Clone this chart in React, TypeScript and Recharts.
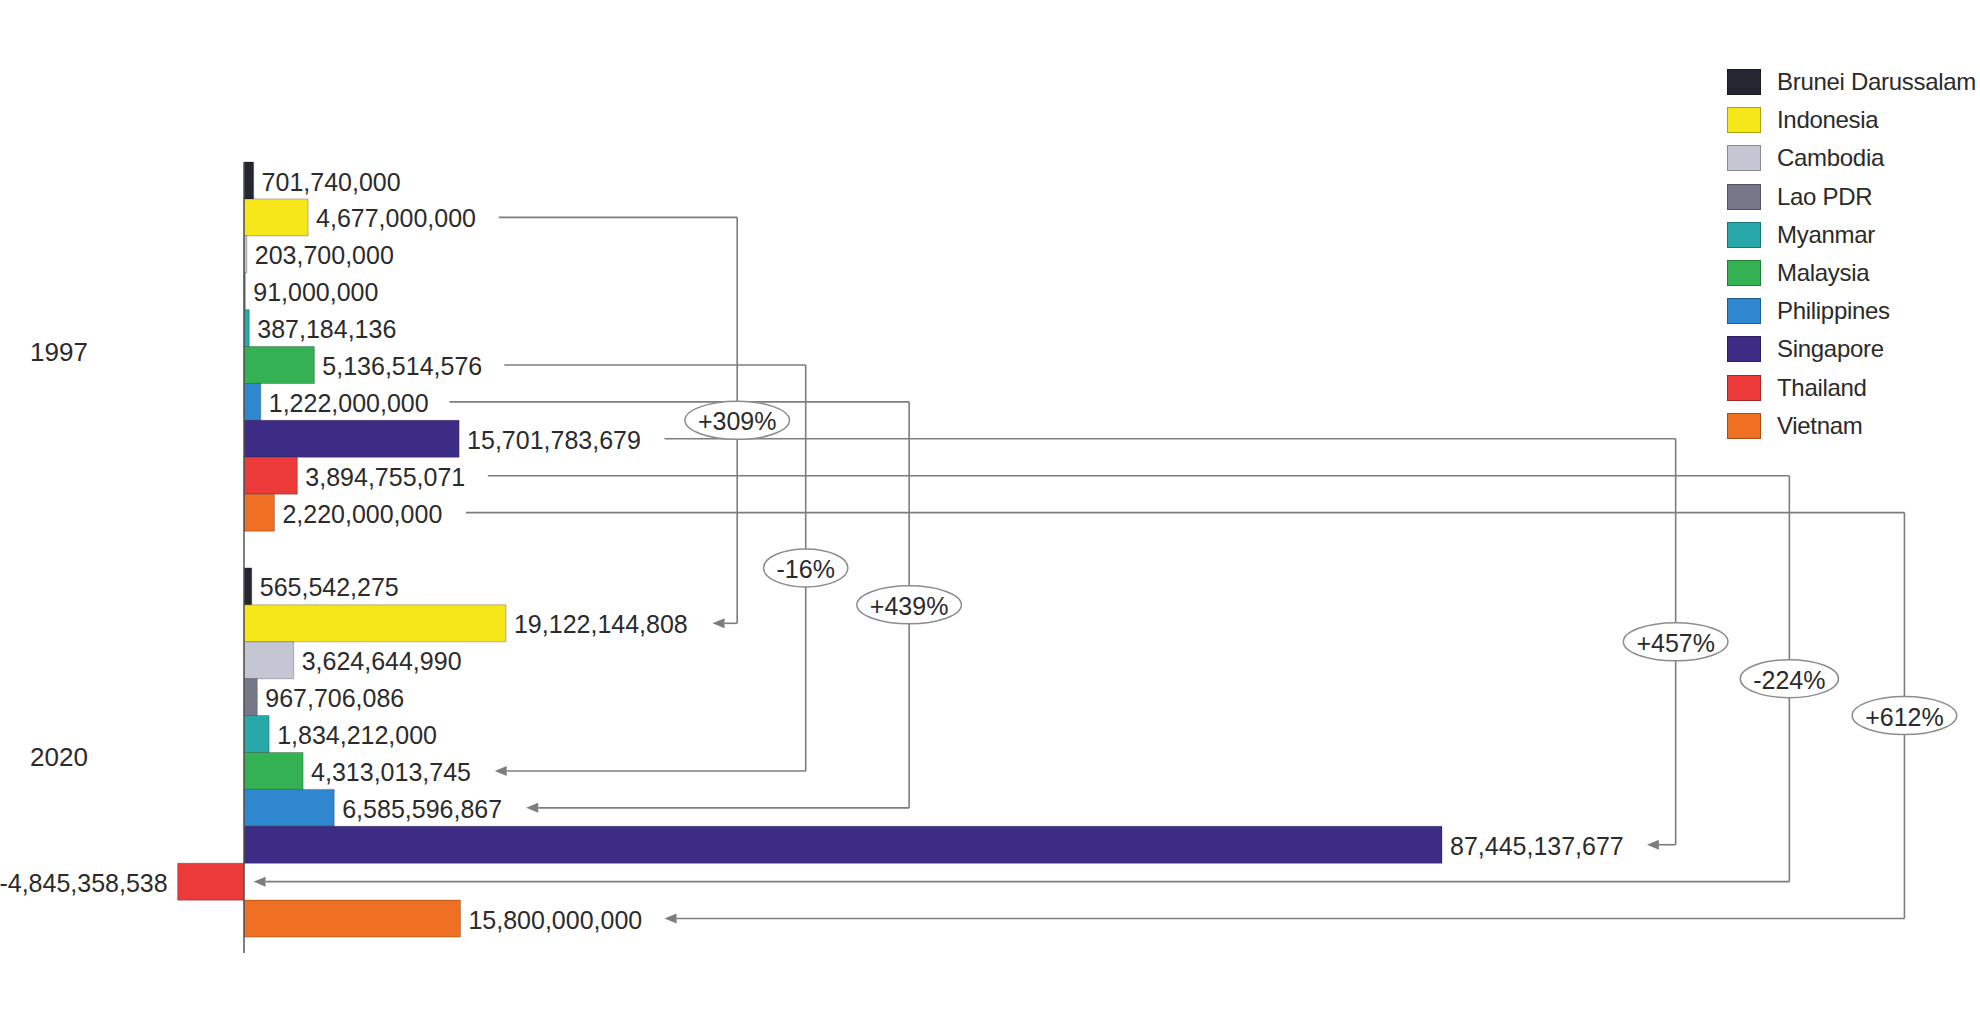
import { Bar, BarChart, Cell, LabelList, Legend, ReferenceLine, XAxis, YAxis } from "recharts";

const countries = [
  "Brunei Darussalam",
  "Indonesia",
  "Cambodia",
  "Lao PDR",
  "Myanmar",
  "Malaysia",
  "Philippines",
  "Singapore",
  "Thailand",
  "Vietnam",
];
const years = ["1997", "2020"];
const values1997 = [
  701740000, 4677000000, 203700000, 91000000, 387184136, 5136514576, 1222000000, 15701783679, 3894755071,
  2220000000,
];
const values2020 = [
  565542275, 19122144808, 3624644990, 967706086, 1834212000, 4313013745, 6585596867, 87445137677, -4845358538,
  15800000000,
];

// countries that get a "change" connector, and its label
const changeCountries = ["Indonesia", "Malaysia", "Philippines", "Singapore", "Thailand", "Vietnam"];
const changeLabels = ["+309%", "-16%", "+439%", "+457%", "-224%", "+612%"];

const colors = [
  "#262632",
  "#f6e71a",
  "#c5c6d4",
  "#77778a",
  "#29a8aa",
  "#33b153",
  "#2f87cf",
  "#3d2c86",
  "#ec3a3a",
  "#ef7023",
];

// connector routing, in x-axis units: leave the 1997 label, turn down, end at the 2020 row
const connectorStart = [18.6e9, 19.0e9, 15.0e9, 30.7e9, 17.8e9, 16.2e9];
const connectorElbow = [36.0e9, 41.0e9, 48.55e9, 104.5e9, 112.8e9, 121.2e9];
const connectorEnd = [34.2e9, 18.3e9, 20.6e9, 102.4e9, 0.7e9, 30.7e9];

const rowKey = (year: string, country: string) => `${year}|${country}`;
const GAP = "gap";

// bubble sits on the border between these two rows
const bubbleRows = [
  [rowKey("1997", "Philippines"), rowKey("1997", "Singapore")],
  [GAP, rowKey("2020", "Brunei Darussalam")],
  [rowKey("2020", "Brunei Darussalam"), rowKey("2020", "Indonesia")],
  [rowKey("2020", "Indonesia"), rowKey("2020", "Cambodia")],
  [rowKey("2020", "Cambodia"), rowKey("2020", "Lao PDR")],
  [rowKey("2020", "Lao PDR"), rowKey("2020", "Myanmar")],
];

const rows = [
  ...countries.map((c, i) => ({ key: rowKey(years[0], c), value: values1997[i], country: c })),
  { key: GAP, value: null, country: null },
  ...countries.map((c, i) => ({ key: rowKey(years[1], c), value: values2020[i], country: c })),
];

const FONT = "'Liberation Sans', Arial, sans-serif";
const TEXT = "#2b2b2b";
const LINE = "#7d7d7d";

const fmt = (v: number) => v.toLocaleString("en-US");

// rough Arial widths, for sizing the bubbles
function textWidth(s: string, size: number) {
  let w = 0;
  for (const ch of s) {
    if (ch === "%") w += 0.889;
    else if (ch === "+") w += 0.584;
    else if (ch === "-") w += 0.333;
    else w += 0.556;
  }
  return w * size;
}

function YearTick(props: any) {
  const { y, payload } = props;
  const [year, country] = String(payload.value).split("|");
  if (country !== countries[4]) return <g />;
  const half = payload.offset ?? 18;
  return (
    <text x={30} y={y + half + 5} dominantBaseline="central" fontSize={26} fontFamily={FONT} fill={TEXT}>
      {year}
    </text>
  );
}

function ValueLabel(props: any) {
  const { value } = props;
  if (value == null) return null;
  const vb = props.viewBox ?? {};
  const x = Number(props.x ?? vb.x);
  const w = Number(props.width ?? vb.width);
  const y = Number(props.y ?? vb.y);
  const h = Number(props.height ?? vb.height);
  const left = Math.min(x, x + w);
  const right = Math.max(x, x + w);
  const neg = value < 0;
  return (
    <text
      x={neg ? left - 10 : right + 8}
      y={y + h / 2 + 1}
      textAnchor={neg ? "end" : "start"}
      dominantBaseline="central"
      fontSize={25}
      fontFamily={FONT}
      fill={TEXT}
    >
      {fmt(value)}
    </text>
  );
}

function ArrowLine(props: any) {
  const { x1, y1, x2, y2 } = props;
  const dir = x2 < x1 ? 1 : -1;
  const len = 12;
  return (
    <g>
      <line x1={x1} y1={y1} x2={x2 + dir * len} y2={y2} stroke={LINE} strokeWidth={1.6} />
      <polygon points={`${x2},${y2} ${x2 + dir * len},${y2 - 5} ${x2 + dir * len},${y2 + 5}`} fill={LINE} />
    </g>
  );
}

function Bubble(props: any) {
  const { x1, y1, x2, y2, text } = props;
  const cx = (x1 + x2) / 2;
  const cy = (y1 + y2) / 2;
  const rx = textWidth(text, 25) / 2 + 13;
  return (
    <g>
      <ellipse cx={cx} cy={cy} rx={rx} ry={19} fill="#fff" stroke="#8c8c8c" strokeWidth={1.5} />
      <text
        x={cx}
        y={cy + 1}
        textAnchor="middle"
        dominantBaseline="central"
        fontSize={25}
        fontFamily={FONT}
        fill={TEXT}
      >
        {text}
      </text>
    </g>
  );
}

function LegendList() {
  return (
    <div style={{ display: "flex", flexDirection: "column", fontFamily: FONT }}>
      {countries.map((c, i) => (
        <div key={c} style={{ display: "flex", alignItems: "center", height: 38.2 }}>
          <span
            style={{
              width: 34,
              height: 26,
              background: colors[i],
              border: "1px solid rgba(0,0,0,0.3)",
              boxSizing: "border-box",
              marginRight: 16,
              flex: "none",
            }}
          />
          <span style={{ fontSize: 24, letterSpacing: -0.3, whiteSpace: "nowrap", color: TEXT }}>{c}</span>
        </div>
      ))}
    </div>
  );
}

export default function App() {
  return (
    <div
      style={{
        position: "absolute",
        left: 0,
        top: 0,
        width: 1980,
        height: 1021,
        overflow: "hidden",
        background: "#fff",
        fontFamily: FONT,
      }}
    >
      <BarChart
        width={1980}
        height={1021}
        data={rows}
        layout="vertical"
        barCategoryGap={0}
        barGap={0}
        margin={{ top: 162, right: 23.5, bottom: 68, left: 0 }}
      >
        <XAxis type="number" domain={[-10e9, 125e9]} allowDataOverflow hide />
        <YAxis
          type="category"
          dataKey="key"
          width={107}
          interval={0}
          axisLine={false}
          tickLine={false}
          tick={<YearTick />}
          padding={{ top: 0, bottom: 16 }}
        />
        <Legend
          layout="vertical"
          align="center"
          verticalAlign="middle"
          wrapperStyle={{ left: 1727, top: 63, width: 253 }}
          content={() => <LegendList />}
        />
        <Bar dataKey="value" isAnimationActive={false}>
          {rows.map((r) => (
            <Cell
              key={r.key}
              fill={r.country ? colors[countries.indexOf(r.country)] : "none"}
              stroke="rgba(0,0,0,0.25)"
              strokeWidth={1}
            />
          ))}
          <LabelList dataKey="value" content={<ValueLabel />} />
        </Bar>
        <ReferenceLine x={0} stroke="#555" strokeWidth={1.5} />
        {changeCountries.map((c, i) => (
          <ReferenceLine
            key={`a-${c}`}
            segment={[
              { x: connectorStart[i], y: rowKey(years[0], c) },
              { x: connectorElbow[i], y: rowKey(years[0], c) },
            ]}
            stroke={LINE}
            strokeWidth={1.6}
          />
        ))}
        {changeCountries.map((c, i) => (
          <ReferenceLine
            key={`b-${c}`}
            segment={[
              { x: connectorElbow[i], y: rowKey(years[0], c) },
              { x: connectorElbow[i], y: rowKey(years[1], c) },
            ]}
            stroke={LINE}
            strokeWidth={1.6}
          />
        ))}
        {changeCountries.map((c, i) => (
          <ReferenceLine
            key={`c-${c}`}
            segment={[
              { x: connectorElbow[i], y: rowKey(years[1], c) },
              { x: connectorEnd[i], y: rowKey(years[1], c) },
            ]}
            shape={(p: any) => <ArrowLine {...p} />}
          />
        ))}
        {changeLabels.map((label, i) => (
          <ReferenceLine
            key={`d-${label}`}
            segment={[
              { x: connectorElbow[i], y: bubbleRows[i][0] },
              { x: connectorElbow[i], y: bubbleRows[i][1] },
            ]}
            shape={(p: any) => <Bubble {...p} text={label} />}
          />
        ))}
      </BarChart>
    </div>
  );
}
